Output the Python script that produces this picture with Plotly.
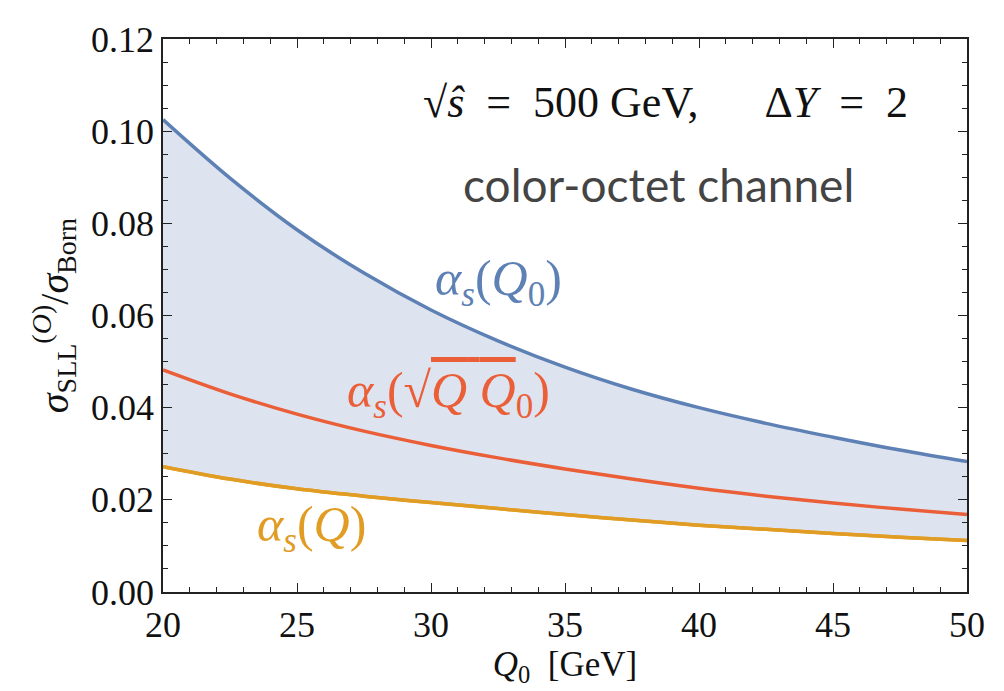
import plotly.graph_objects as go

# Data
q0 = [20, 22.5, 25, 27.5, 30, 32.5, 35, 37.5, 40, 42.5, 45, 47.5, 50]
alpha_q0 = [0.1025, 0.0898, 0.0786, 0.0692, 0.0612, 0.0545, 0.0488, 0.0440, 0.0400, 0.0366, 0.0336, 0.0308, 0.0283]
alpha_sqrt = [0.0482, 0.0430, 0.0386, 0.0349, 0.0318, 0.0291, 0.0267, 0.0245, 0.0225, 0.0208, 0.0193, 0.0180, 0.0168]
alpha_q = [0.0272, 0.0245, 0.0224, 0.0208, 0.0194, 0.0181, 0.0168, 0.0156, 0.0145, 0.0136, 0.0127, 0.0119, 0.0112]

x_ticks = [20, 25, 30, 35, 40, 45, 50]
y_ticks = [0.00, 0.02, 0.04, 0.06, 0.08, 0.10, 0.12]

BLUE = "rgb(94,129,181)"
RED = "rgb(234,95,55)"
ORANGE = "rgb(225,156,36)"
FILL = "rgba(222,227,240,1)"
SERIF = "'Liberation Serif', 'DejaVu Serif', serif"

fig = go.Figure()
fig.add_trace(go.Scatter(x=q0, y=alpha_q, mode="lines", line=dict(color=ORANGE, width=3.5, shape="spline"),
                         showlegend=False, hoverinfo="skip"))
fig.add_trace(go.Scatter(x=q0, y=alpha_q0, mode="lines", line=dict(color=BLUE, width=3.5, shape="spline"),
                         fill="tonexty", fillcolor=FILL, showlegend=False, hoverinfo="skip"))
fig.add_trace(go.Scatter(x=q0, y=alpha_sqrt, mode="lines", line=dict(color=RED, width=3.5, shape="spline"),
                         showlegend=False, hoverinfo="skip"))
fig.add_trace(go.Scatter(x=q0, y=alpha_q, mode="lines", line=dict(color=ORANGE, width=3.5, shape="spline"),
                         showlegend=False, hoverinfo="skip"))

axis_common = dict(showgrid=False, zeroline=False, showline=True, linecolor="#222", linewidth=1.5,
                   mirror="allticks", ticks="inside", ticklen=9, tickwidth=1.3, tickcolor="#222",
                   tickfont=dict(family=SERIF, size=36, color="#111"))

fig.update_xaxes(range=[20, 50], tickvals=x_ticks, ticktext=[str(v) for v in x_ticks],
                 minor=dict(ticks="inside", dtick=1, ticklen=5, tickwidth=1.1, tickcolor="#222"),
                 title=dict(text="<i>Q</i><sub>0</sub>  [GeV]", font=dict(family=SERIF, size=35, color="#111"),
                            standoff=6),
                 **axis_common)
fig.update_yaxes(range=[0, 0.12], tickvals=y_ticks, ticktext=[f"{v:.2f}" for v in y_ticks],
                 minor=dict(ticks="inside", dtick=0.005, ticklen=5, tickwidth=1.1, tickcolor="#222"),
                 title=dict(text="<i>σ</i><sub>SLL</sub><sup>(<i>O</i>)</sup>/<i>σ</i><sub>Born</sub>",
                            font=dict(family=SERIF, size=40, color="#111"), standoff=10),
                 **axis_common)

fig.add_annotation(x=38.75, y=0.1062, xref="x", yref="y", showarrow=False,
                   text="√<i>ŝ</i>  =  500 GeV,      Δ<i>Y</i>  =  2",
                   font=dict(family=SERIF, size=44, color="#111"))
fig.add_annotation(x=38.5, y=0.0885, xref="x", yref="y", showarrow=False,
                   text="color-octet channel",
                   font=dict(family="Lato, 'Open Sans', sans-serif", size=46, color="#444"))
fig.add_annotation(x=32.5, y=0.0672, xref="x", yref="y", showarrow=False,
                   text="<i>α</i><sub><i>s</i></sub>(<i>Q</i><sub>0</sub>)",
                   font=dict(family=SERIF, size=50, color=BLUE))
fig.add_annotation(x=30.65, y=0.0430, xref="x", yref="y", showarrow=False,
                   text="<i>α</i><sub><i>s</i></sub>(√<span style='text-decoration:overline'><i>Q</i> <i>Q</i></span><sub>0</sub>)",
                   font=dict(family=SERIF, size=50, color=RED))
fig.add_annotation(x=25.54, y=0.0138, xref="x", yref="y", showarrow=False,
                   text="<i>α</i><sub><i>s</i></sub>(<i>Q</i>)",
                   font=dict(family=SERIF, size=50, color=ORANGE))

fig.update_layout(width=1004, height=691, plot_bgcolor="white", paper_bgcolor="white",
                  margin=dict(l=155, r=45, t=24, b=107))

fig.write_html("out.html")
